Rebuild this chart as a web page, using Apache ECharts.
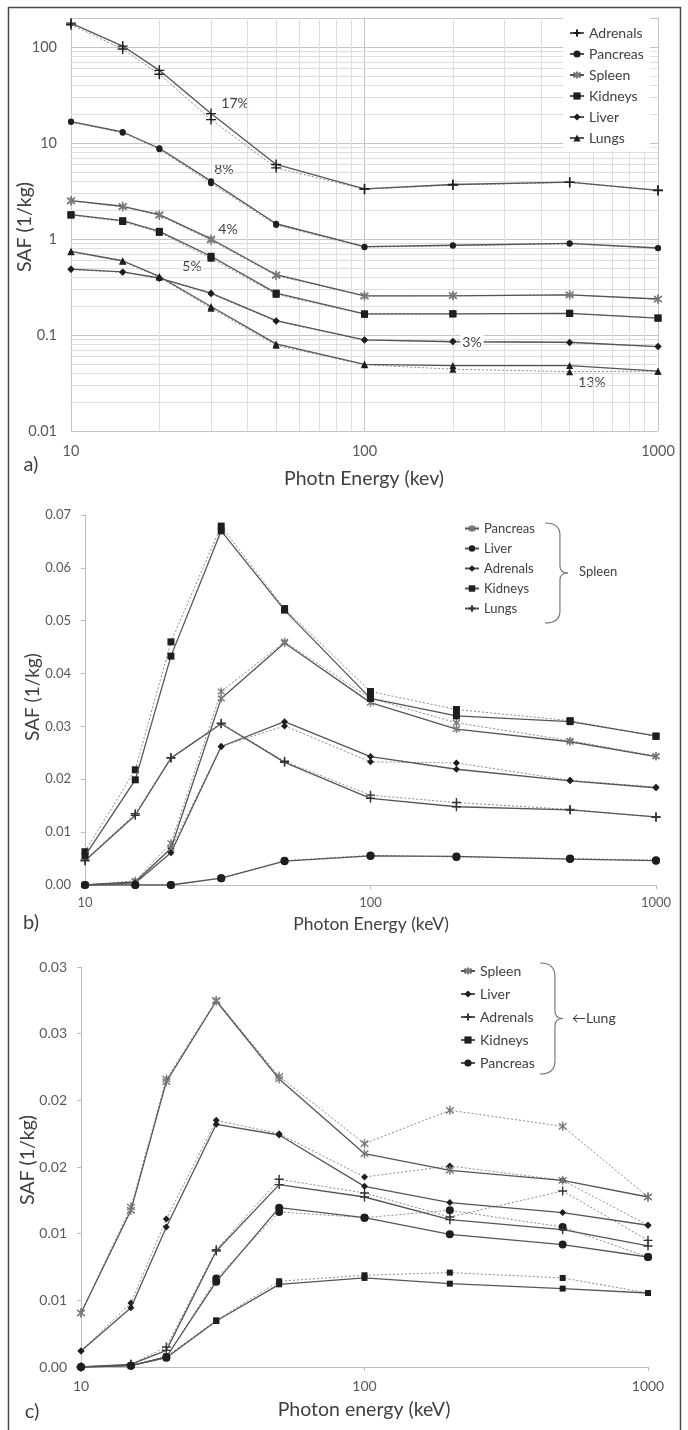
<!DOCTYPE html>
<html>
<head>
<meta charset="utf-8">
<script src="https://cdn.jsdelivr.net/npm/echarts@6/dist/echarts.min.js"></script>
<style>
html, body { margin: 0; padding: 0; background: #fff; }
#chart { width: 688px; height: 1430px; }
</style>
</head>
<body>
<div id="chart"></div>
<script>
var energies = [10, 15, 20, 30, 50, 100, 200, 500, 1000];

// a) log-log, solid and dotted (second model) curves
var aAdrenals  = [177, 102, 57, 20.2, 5.97, 3.33, 3.69, 3.9, 3.21];
var aAdrenalsD = [170, 95, 52, 17.5, 5.5, 3.3, 3.65, 3.88, 3.2];
var aPancreas  = [16.7, 13, 8.8, 4.0, 1.44, 0.83, 0.86, 0.90, 0.805];
var aPancreasD = [16.5, 12.8, 8.6, 3.8, 1.40, 0.82, 0.85, 0.89, 0.80];
var aSpleen    = [2.51, 2.19, 1.79, 1.0, 0.424, 0.256, 0.256, 0.262, 0.237];
var aSpleenD   = [2.49, 2.16, 1.76, 0.97, 0.415, 0.254, 0.258, 0.262, 0.236];
var aKidneys   = [1.79, 1.55, 1.2, 0.66, 0.273, 0.166, 0.166, 0.168, 0.150];
var aKidneysD  = [1.77, 1.52, 1.17, 0.63, 0.265, 0.164, 0.166, 0.168, 0.150];
var aLiver     = [0.486, 0.453, 0.392, 0.273, 0.141, 0.089, 0.085, 0.084, 0.0757];
var aLiverD    = [0.48, 0.45, 0.388, 0.268, 0.139, 0.088, 0.086, 0.083, 0.0757];
var aLungs     = [0.743, 0.593, 0.407, 0.198, 0.0807, 0.0495, 0.048, 0.048, 0.042];
var aLungsD    = [0.735, 0.585, 0.40, 0.19, 0.078, 0.049, 0.044, 0.0415, 0.042];

// b) source Spleen
var bPancreas  = [0, 0.0006, 0.0069, 0.0353, 0.0458, 0.0345, 0.0295, 0.0271, 0.0243];
var bPancreasD = [0, 0.0008, 0.0079, 0.0366, 0.0460, 0.0353, 0.0307, 0.0273, 0.0244];
var bLiver     = [0, 0, 0, 0.0013, 0.0045, 0.0055, 0.0054, 0.0049, 0.0046];
var bLiverD    = [0, 0, 0, 0.0013, 0.0046, 0.0056, 0.0053, 0.0050, 0.0047];
var bAdrenals  = [0, 0.0004, 0.0061, 0.0262, 0.0309, 0.0243, 0.0219, 0.0197, 0.0184];
var bAdrenalsD = [0, 0.0005, 0.0069, 0.0262, 0.0301, 0.0233, 0.0231, 0.0198, 0.0185];
var bKidneys   = [0.0055, 0.0199, 0.0433, 0.0670, 0.0520, 0.0353, 0.0320, 0.0309, 0.0282];
var bKidneysD  = [0.0063, 0.0218, 0.0460, 0.0679, 0.0523, 0.0366, 0.0332, 0.0311, 0.0281];
var bLungs     = [0.0046, 0.0132, 0.0240, 0.0305, 0.0232, 0.0164, 0.0148, 0.0142, 0.0129];
var bLungsD    = [0.0047, 0.0135, 0.0241, 0.0306, 0.0234, 0.0170, 0.0156, 0.0143, 0.0128];

// c) source Lung
var cSpleen    = [0.00405, 0.01175, 0.0214, 0.02745, 0.0216, 0.0160, 0.01475, 0.0140, 0.01275];
var cSpleenD   = [0.00405, 0.0120, 0.0216, 0.0275, 0.0218, 0.01675, 0.01925, 0.01805, 0.01275];
var cLiver     = [0.0012, 0.00445, 0.0105, 0.0182, 0.0174, 0.01355, 0.01233, 0.01158, 0.01063];
var cLiverD    = [0.0012, 0.0048, 0.0111, 0.0185, 0.0175, 0.01425, 0.01508, 0.0140, 0.01063];
var cAdrenals  = [0, 0.0002, 0.00125, 0.0087, 0.01368, 0.01275, 0.01105, 0.0103, 0.00908];
var cAdrenalsD = [0, 0.0002, 0.0015, 0.0088, 0.01408, 0.01305, 0.01125, 0.0132, 0.0095];
var cKidneys   = [0, 0.0001, 0.0007, 0.00345, 0.0062, 0.00668, 0.00625, 0.00588, 0.00555];
var cKidneysD  = [0, 0.0001, 0.0008, 0.0035, 0.00643, 0.00688, 0.00708, 0.00668, 0.00555];
var cPancreas  = [0, 0.0001, 0.00075, 0.0064, 0.01195, 0.0112, 0.00995, 0.00918, 0.00825];
var cPancreasD = [0, 0.0001, 0.0007, 0.00663, 0.01163, 0.0112, 0.01175, 0.0105, 0.00825];

var PLUS = 'path://M0,-5L0,5M-5,0L5,0';
var STAR = 'path://M0,-5L0,5M-4.3,-3.4L4.3,3.4M-4.3,3.4L4.3,-3.4';
var FONT = 'Lato';

function curve(name, vals, idx, sym, size, dotted, color) {
	var stroked = sym.indexOf('path://') === 0;
	color = color || '#1e1e1e';
	return {
		name: name,
		type: 'line',
		xAxisIndex: idx,
		yAxisIndex: idx,
		data: energies.map(function (e, i) { return [e, vals[i]]; }),
		symbol: sym,
		symbolSize: size,
		symbolKeepAspect: true,
		showAllSymbol: true,
		lineStyle: {
			color: dotted ? '#8c8c8c' : '#555',
			width: dotted ? 1 : 1.3,
			type: dotted ? [2, 2] : 'solid'
		},
		itemStyle: { color: color, borderColor: color, borderWidth: stroked ? 1.4 : 0 },
		emphasis: { disabled: true },
		z: dotted ? 3 : 4
	};
}

// minor log grid lines of panel a (Excel style 2..9 per decade)
var minorLines = [];
[0.01, 0.1, 1, 10].forEach(function (d) {
	for (var k = 2; k <= 9; k++) minorLines.push({ yAxis: k * d });
});
[10, 100].forEach(function (d) {
	for (var k = 2; k <= 9; k++) minorLines.push({ xAxis: k * d });
});

function logLabel(v) {
	var l = Math.log(v) / Math.LN10;
	if (Math.abs(l - Math.round(l)) > 1e-6) return '';
	return String(Math.round(v * 100) / 100);
}
function energyLabel(v) { return String(Math.round(v)); }
function decLabel(v) {
	return (Math.round(v * 100 + 1e-7) / 100).toFixed(2);
}
function stripName(n) { return n.split('|')[1]; }

var linAxisLine = { show: true, lineStyle: { color: '#bdbdbd', width: 1 } };
var linTick = { show: true, length: 4, lineStyle: { color: '#bdbdbd' } };

function text(x, y, str, size, extra) {
	var el = {
		type: 'text', x: x, y: y,
		style: { text: str, font: size + 'px ' + FONT, fill: '#404040', align: 'center', verticalAlign: 'middle' }
	};
	for (var k in (extra || {})) el[k] = extra[k];
	return el;
}
// curly brace "}" made of quadratic curves and straight strokes
function brace(x, y, w, h) {
	var v = x + w * 0.65, m = y + h / 2, st = { stroke: '#777', lineWidth: 1.2, fill: 'none' };
	function q(x1, y1, cx, cy, x2, y2) {
		return { type: 'bezierCurve', shape: { x1: x1, y1: y1, cpx1: cx, cpy1: cy, x2: x2, y2: y2 }, style: st };
	}
	function l(x1, y1, x2, y2) {
		return { type: 'line', shape: { x1: x1, y1: y1, x2: x2, y2: y2 }, style: st };
	}
	return { type: 'group', children: [
		q(x, y, v, y, v, y + h * 0.12),
		l(v, y + h * 0.12, v, m - h * 0.07),
		q(v, m - h * 0.07, v, m, x + w, m),
		q(x + w, m, v, m, v, m + h * 0.07),
		l(v, m + h * 0.07, v, y + h * 0.88),
		q(v, y + h * 0.88, v, y + h, x, y + h)
	] };
}

var chart = echarts.init(document.getElementById('chart'));
var option = {
	animation: false,
	textStyle: { fontFamily: FONT },
	grid: [
		{ left: 71, top: 18, width: 587, height: 413 },
		{ left: 85, top: 515, width: 571, height: 370 },
		{ left: 81, top: 967, width: 567, height: 400 }
	],
	xAxis: [
		{ type: 'log', gridIndex: 0, min: 10, max: 1000, axisLine: { show: false }, axisTick: { show: false },
			axisLabel: { fontSize: 14.5, color: '#595959', margin: 13, formatter: energyLabel },
			splitLine: { show: true, lineStyle: { color: '#c4c4c4' } } },
		{ type: 'log', gridIndex: 1, min: 10, max: 1000, axisLine: linAxisLine, axisTick: linTick,
			axisLabel: { fontSize: 13, color: '#595959', margin: 11, formatter: energyLabel }, splitLine: { show: false } },
		{ type: 'log', gridIndex: 2, min: 10, max: 1000, axisLine: linAxisLine, axisTick: linTick,
			axisLabel: { fontSize: 14, color: '#595959', margin: 12, formatter: energyLabel }, splitLine: { show: false } }
	],
	yAxis: [
		{ type: 'log', gridIndex: 0, min: 0.01, max: 200, axisLine: { show: false }, axisTick: { show: false },
			axisLabel: { fontSize: 14.5, color: '#595959', margin: 14, formatter: logLabel },
			splitLine: { show: true, lineStyle: { color: '#c4c4c4' } } },
		{ type: 'value', gridIndex: 1, min: 0, max: 0.07, interval: 0.01, axisLine: linAxisLine, axisTick: linTick,
			axisLabel: { fontSize: 13, color: '#595959', margin: 14, formatter: decLabel }, splitLine: { show: false } },
		{ type: 'value', gridIndex: 2, min: 0, max: 0.03, interval: 0.005, axisLine: linAxisLine, axisTick: linTick,
			axisLabel: { fontSize: 14, color: '#595959', margin: 14, formatter: decLabel }, splitLine: { show: false } }
	],
	legend: [
		{ orient: 'vertical', left: 563, top: 18, padding: [8, 6, 6, 6], itemWidth: 14, itemHeight: 9, itemGap: 7,
			backgroundColor: '#fff', selectedMode: false, formatter: stripName, z: 10,
			textStyle: { fontSize: 14, color: '#404040' },
			data: ['a|Adrenals', 'a|Pancreas', 'a|Spleen', 'a|Kidneys', 'a|Liver', 'a|Lungs'] },
		{ orient: 'vertical', left: 464, top: 522, padding: 0, itemWidth: 14, itemHeight: 8, itemGap: 7,
			selectedMode: false, formatter: stripName,
			textStyle: { fontSize: 13, color: '#404040' },
			data: ['b|Pancreas', 'b|Liver', 'b|Adrenals', 'b|Kidneys', 'b|Lungs'] },
		{ orient: 'vertical', left: 460, top: 964, padding: 0, itemWidth: 14, itemHeight: 9, itemGap: 9,
			selectedMode: false, formatter: stripName,
			textStyle: { fontSize: 14, color: '#404040' },
			data: ['c|Spleen', 'c|Liver', 'c|Adrenals', 'c|Kidneys', 'c|Pancreas'] }
	],
	series: [
		{ name: 'grid-a', type: 'line', xAxisIndex: 0, yAxisIndex: 0, data: [[10, 0.01]], showSymbol: false,
			lineStyle: { opacity: 0 }, z: 1, silent: true,
			markLine: { silent: true, z: 1, symbol: ['none', 'none'], label: { show: false }, animation: false,
				lineStyle: { color: '#dedede', type: 'solid', width: 1 }, emphasis: { disabled: true },
				data: minorLines } },

		curve('a|Adrenals', aAdrenals, 0, PLUS, 10, false),
		curve('a|Adrenals~', aAdrenalsD, 0, PLUS, 10, true),
		curve('a|Pancreas', aPancreas, 0, 'circle', 6, false),
		curve('a|Pancreas~', aPancreasD, 0, 'circle', 6, true),
		curve('a|Spleen', aSpleen, 0, STAR, 9, false, '#7a7a7a'),
		curve('a|Spleen~', aSpleenD, 0, STAR, 9, true, '#7a7a7a'),
		curve('a|Kidneys', aKidneys, 0, 'rect', 7, false),
		curve('a|Kidneys~', aKidneysD, 0, 'rect', 7, true),
		curve('a|Liver', aLiver, 0, 'diamond', 7, false),
		curve('a|Liver~', aLiverD, 0, 'diamond', 7, true),
		curve('a|Lungs', aLungs, 0, 'triangle', 7, false),
		curve('a|Lungs~', aLungsD, 0, 'triangle', 7, true),

		curve('b|Pancreas', bPancreas, 1, STAR, 8, false, '#7a7a7a'),
		curve('b|Pancreas~', bPancreasD, 1, STAR, 8, true, '#7a7a7a'),
		curve('b|Liver', bLiver, 1, 'circle', 8, false),
		curve('b|Liver~', bLiverD, 1, 'circle', 8, true),
		curve('b|Adrenals', bAdrenals, 1, 'diamond', 7, false),
		curve('b|Adrenals~', bAdrenalsD, 1, 'diamond', 7, true),
		curve('b|Kidneys', bKidneys, 1, 'rect', 7, false),
		curve('b|Kidneys~', bKidneysD, 1, 'rect', 7, true),
		curve('b|Lungs', bLungs, 1, PLUS, 9, false, '#333'),
		curve('b|Lungs~', bLungsD, 1, PLUS, 9, true, '#333'),

		curve('c|Spleen', cSpleen, 2, STAR, 9, false, '#7a7a7a'),
		curve('c|Spleen~', cSpleenD, 2, STAR, 9, true, '#7a7a7a'),
		curve('c|Liver', cLiver, 2, 'diamond', 7, false),
		curve('c|Liver~', cLiverD, 2, 'diamond', 7, true),
		curve('c|Adrenals', cAdrenals, 2, PLUS, 9, false, '#333'),
		curve('c|Adrenals~', cAdrenalsD, 2, PLUS, 9, true, '#333'),
		curve('c|Kidneys', cKidneys, 2, 'rect', 6, false),
		curve('c|Kidneys~', cKidneysD, 2, 'rect', 6, true),
		curve('c|Pancreas', cPancreas, 2, 'circle', 8, false),
		curve('c|Pancreas~', cPancreasD, 2, 'circle', 8, true)
	],
	graphic: [
		{ type: 'rect', shape: { x: 8.5, y: 7.5, width: 672, height: 1440 },
			style: { fill: 'none', stroke: '#4a4a4a', lineWidth: 1.5 } },

		// panel a
		text(364, 479, 'Photn Energy (kev)', 19.5),
		text(25, 227, 'SAF (1/kg)', 19.5, { rotation: Math.PI / 2 }),
		text(31, 465, 'a)', 20),
		text(235, 103, '17%', 14),
		text(224, 169, '8%', 14),
		text(228, 229, '4%', 14),
		text(192, 266, '5%', 14),
		{ type: 'text', x: 472, y: 342, z: 100,
			style: { text: '3%', font: '14px ' + FONT, fill: '#404040', align: 'center', verticalAlign: 'middle',
				backgroundColor: '#fff', padding: [0, 2] } },
		text(592, 382, '13%', 14),

		// panel b
		text(371, 924, 'Photon Energy (keV)', 17.5),
		text(33, 697, 'SAF (1/kg)', 19, { rotation: Math.PI / 2 }),
		text(31, 923, 'b)', 20),
		brace(545, 523, 23, 100),
		{ type: 'text', x: 579, y: 572,
			style: { text: 'Spleen', font: '13px ' + FONT, fill: '#404040', align: 'left', verticalAlign: 'middle' } },

		// panel c
		text(364, 1410, 'Photon energy (keV)', 19.5),
		text(28, 1160, 'SAF (1/kg)', 19.5, { rotation: Math.PI / 2 }),
		text(32, 1412, 'c)', 20),
		brace(540, 963, 23, 111),
		{ type: 'text', x: 572, y: 1018,
			style: { text: '\u2190Lung', font: '14px ' + FONT, fill: '#404040', align: 'left', verticalAlign: 'middle' } }
	]
};
chart.setOption(option);
</script>
</body>
</html>
